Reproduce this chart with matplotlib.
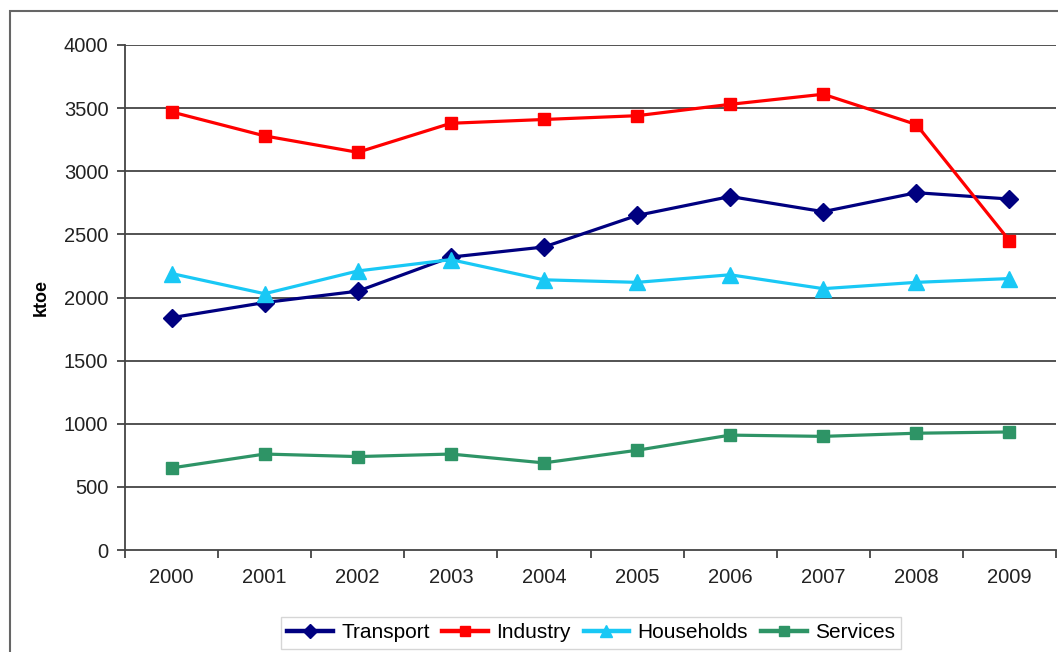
import matplotlib.pyplot as plt
from matplotlib.patches import Rectangle

years = ['2000', '2001', '2002', '2003', '2004', '2005', '2006', '2007', '2008', '2009']
transport = [1840, 1960, 2050, 2320, 2400, 2650, 2800, 2680, 2830, 2780]
industry = [3470, 3280, 3150, 3380, 3410, 3440, 3530, 3610, 3370, 2450]
households = [2190, 2030, 2210, 2300, 2140, 2120, 2180, 2070, 2120, 2150]
services = [650, 760, 740, 760, 690, 790, 910, 900, 925, 935]

plt.rcParams['font.family'] = ['Liberation Sans', 'DejaVu Sans']

W, H = 1058, 652
fig = plt.figure(figsize=(W / 100, H / 100), dpi=100)
fig.patch.set_facecolor('white')

# outer chart border (cut off on the right and bottom)
fig.patches.append(Rectangle((10 / W, -0.1), 1.2, (H - 11) / H + 0.1,
                             transform=fig.transFigure, fill=False,
                             edgecolor='#666666', linewidth=1.5))

ax = fig.add_axes([125 / W, (H - 550) / H, (1056 - 125) / W, (550 - 45) / H])
x = list(range(len(years)))

ax.plot(x, transport, color='#000080', marker='D', markersize=9.5, linewidth=2.3, label='Transport')
ax.plot(x, industry, color='#ff0000', marker='s', markersize=9, linewidth=2.3, label='Industry')
ax.plot(x, households, color='#19c8f5', marker='^', markersize=11, linewidth=2.3, label='Households')
ax.plot(x, services, color='#2e9466', marker='s', markersize=9, linewidth=2.3, label='Services')

ax.set_xlim(-0.5, len(years) - 0.5)
ax.set_ylim(0, 4000)
ax.set_yticks(range(0, 4001, 500))
ax.set_xticks(x)
ax.set_xticklabels(years)
ax.set_xticks([i - 0.5 for i in range(len(years) + 1)], minor=True)
ax.tick_params(axis='x', which='major', length=0, pad=13, labelsize=14.5, labelcolor='#222222')
ax.tick_params(axis='x', which='minor', length=6, width=1.3, color='#444444', direction='out')
ax.tick_params(axis='y', length=6, width=1.3, color='#444444', labelsize=14.5,
               labelcolor='#222222', pad=6)

for v in range(500, 4001, 500):
    ax.axhline(v, color='#444444', linewidth=1.3, zorder=0)

for s in ['top', 'right']:
    ax.spines[s].set_visible(False)
for s in ['left', 'bottom']:
    ax.spines[s].set_color('#444444')
    ax.spines[s].set_linewidth(1.3)

ax.set_ylabel('ktoe', fontsize=13, fontweight='bold', labelpad=10)

leg = fig.legend(loc='center', bbox_to_anchor=(591 / W, 1 - 633 / H), ncol=4,
                 fontsize=15, frameon=True, fancybox=False, handlelength=2.2,
                 handletextpad=0.4, columnspacing=0.6, borderpad=0.3, markerscale=0.75)
leg.get_frame().set_edgecolor('#cccccc')
leg.get_frame().set_linewidth(1)
for line in leg.get_lines():
    line.set_linewidth(3.2)

fig.savefig('out.png', dpi=100)
